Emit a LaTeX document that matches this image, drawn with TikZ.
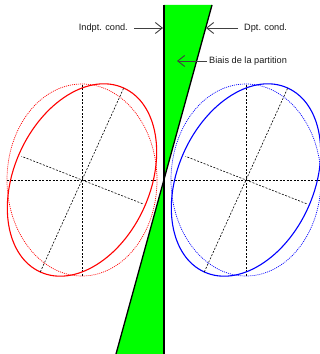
\documentclass[tikz,border=0pt]{standalone}
\usepackage{fontspec}
\setmainfont{Liberation Sans}
\usepackage{tikz}
\usetikzlibrary{arrows.meta,positioning}

\tikzset{
  axe/.style={black, line width=0.6pt, dash pattern=on 2pt off 1.5pt},
  contour/.style={line width=1.1pt},
  cercle/.style={line width=0.7pt, dash pattern=on 1pt off 1pt},
  fleche/.style={black!75, line width=0.9pt, -{Straight Barb[length=7pt,width=11pt]}},
  etiq/.style={black!90, inner sep=0pt, font=\fontsize{9.2}{11}\selectfont}
}

\begin{document}
\begin{tikzpicture}[x=1pt,y=1pt]
            \useasboundingbox (0,0) rectangle (320,354);
            % le biais entre les deux conditions
            \coordinate (haut) at (164,349);
            \coordinate (hautd) at (212,349);
            \coordinate (bas) at (164,0);
            \coordinate (basg) at (116,0);
            \fill[green] (haut)--(hautd)--(basg)--(bas)--cycle;
            \draw[line width=1.3pt] (haut)--(bas);
            \draw[line width=1.3pt] (hautd)--(basg);
            % condition independante
            \coordinate (ci) at (82,174);
            \draw[red, cercle] (ci) ellipse[x radius=75, y radius=96];
            \draw[axe] (7,174)--(157,174);
            \draw[axe] (82,78)--(82,270);
            \begin{scope}[shift={(ci)}, rotate=65.6]
                \draw[red, contour] (0,0) ellipse[x radius=101, y radius=68];
                \draw[axe] (-101,0)--(101,0);
                \draw[axe] (273:65)--(93:65);
            \end{scope}
            % condition dependante
            \coordinate (cd) at (246,174);
            \draw[blue, cercle] (cd) ellipse[x radius=75, y radius=96];
            \draw[axe] (171,174)--(321,174);
            \draw[axe] (246,78)--(246,270);
            \begin{scope}[shift={(cd)}, rotate=65.6]
                \draw[blue, contour] (0,0) ellipse[x radius=101, y radius=68];
                \draw[axe] (-101,0)--(101,0);
                \draw[axe] (273:65)--(93:65);
            \end{scope}
            % etiquettes
            \node[etiq, anchor=east] (indpt) at (128,326) {Indpt. cond.};
            \node[etiq, anchor=west] (dpt) at (244,326) {Dpt. cond.};
            \node[etiq, anchor=west] (biais) at (209,293) {Biais de la partition};
            \coordinate (pindpt) at (163,326);
            \coordinate (pdpt) at (206,326);
            \coordinate (pbiais) at (177,293);
            \draw[fleche] ([xshift=-6pt]dpt.west)--(pdpt);
            \draw[fleche] ([xshift=6pt]indpt.east)--(pindpt);
            \draw[fleche] ([xshift=-2pt]biais.west)--(pbiais);
\end{tikzpicture}
\end{document}
